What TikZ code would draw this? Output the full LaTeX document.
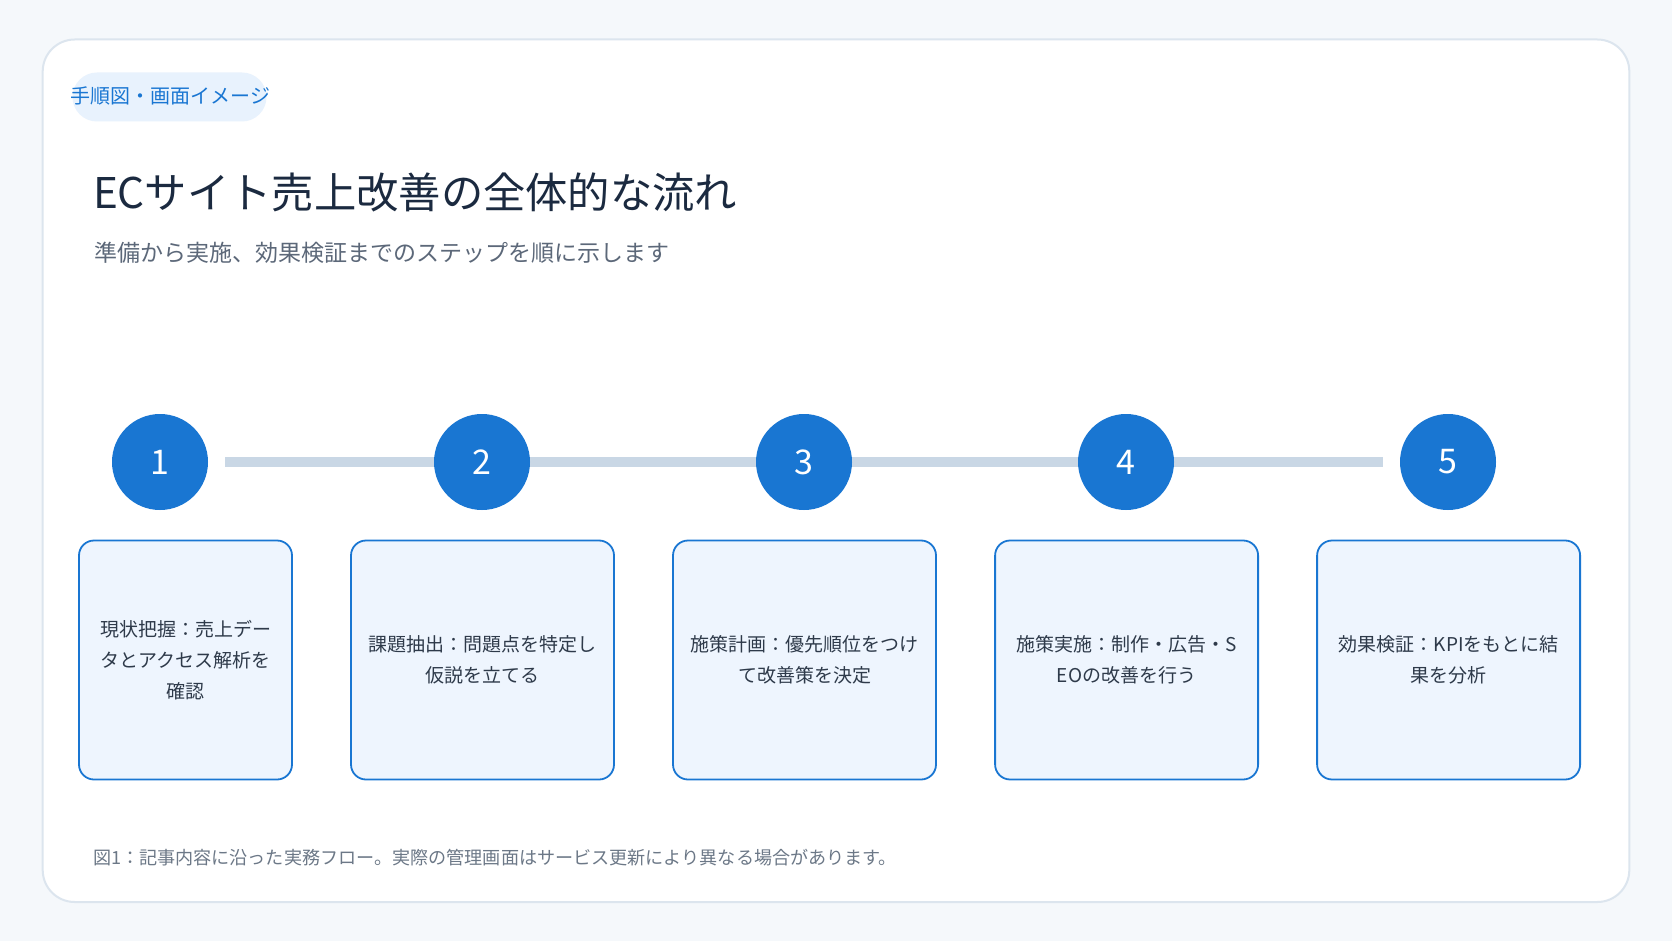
\documentclass[tikz,border=0pt]{standalone}
\usepackage{fontspec}
\setmainfont{Noto Sans CJK JP}
\usepackage{tikz}

\definecolor{pagebg}{HTML}{F5F8FB}
\definecolor{cardedge}{HTML}{DCE5EE}
\definecolor{mainblue}{HTML}{1976D2}
\definecolor{pillfill}{HTML}{E8F2FD}
\definecolor{boxfill}{HTML}{EEF5FE}
\definecolor{trackgray}{HTML}{C9D7E5}
\definecolor{titleink}{HTML}{1B2A40}
\definecolor{subink}{HTML}{5C6879}
\definecolor{boxink}{HTML}{2E3A4A}
\definecolor{noteink}{HTML}{6C7887}

\tikzset{
    stepnum/.style={shape=circle, fill=mainblue, text=white, minimum size=96pt, inner sep=0pt, font=\fontsize{34}{34}\selectfont},
    stepbox/.style={draw=mainblue, line width=1.8pt, fill=boxfill, rounded corners=15pt, minimum height=239pt, inner sep=0pt, align=center, text=boxink, font=\fontsize{19}{31}\selectfont},
}

\begin{document}
\begin{tikzpicture}[x=1pt, y=-1pt]
    \path[fill=pagebg] (0,0) rectangle (1672,941);
    \draw[draw=cardedge, line width=2pt, fill=white, rounded corners=32pt] (42.7,39.5) rectangle (1629.3,902);
    \node[fill=pillfill, rounded corners=24.5pt, minimum width=194pt, minimum height=49pt, inner sep=0pt] at (169.5,97) (tagpill) {};
    \node[text=mainblue, inner sep=0pt, font=\fontsize{20}{20}\selectfont] at (170.4,96) (tag) {手順図・画面イメージ};
    \node[anchor=west, inner sep=0pt, text=titleink, font=\fontsize{42.3}{42.3}\selectfont] at (92.8,192) (title) {ECサイト売上改善の全体的な流れ};
    \node[anchor=west, inner sep=0pt, text=subink, font=\fontsize{23}{23}\selectfont] at (93.8,253) (subtitle) {準備から実施、効果検証までのステップを順に示します};
    \coordinate (trackstart) at (225,462);
    \coordinate (trackend) at (1383,462);
    \draw[draw=trackgray, line width=10.5pt] (trackstart) -- (trackend);
    \node[stepnum] at (160,462) (S1) {1};
    \node[stepnum] at (482,462) (S2) {2};
    \node[stepnum] at (804,462) (S3) {3};
    \node[stepnum] at (1126,462) (S4) {4};
    \node[stepnum] at (1448,462) (S5) {5};
    \node[stepbox, minimum width=213pt] at (185.5,660) (B1) {現状把握：売上デー\\タとアクセス解析を\\確認};
    \node[stepbox, minimum width=263pt] at (482.5,660) (B2) {課題抽出：問題点を特定し\\仮説を立てる};
    \node[stepbox, minimum width=263pt] at (804.5,660) (B3) {施策計画：優先順位をつけ\\て改善策を決定};
    \node[stepbox, minimum width=263pt] at (1126.6,660) (B4) {施策実施：制作・広告・S\\EOの改善を行う};
    \node[stepbox, minimum width=263pt] at (1448.6,660) (B5) {効果検証：KPIをもとに結\\果を分析};
    \node[anchor=west, inner sep=0pt, text=noteink, font=\fontsize{18.1}{18.1}\selectfont] at (92.8,858) (note) {図1：記事内容に沿った実務フロー。実際の管理画面はサービス更新により異なる場合があります。};
\end{tikzpicture}
\end{document}
